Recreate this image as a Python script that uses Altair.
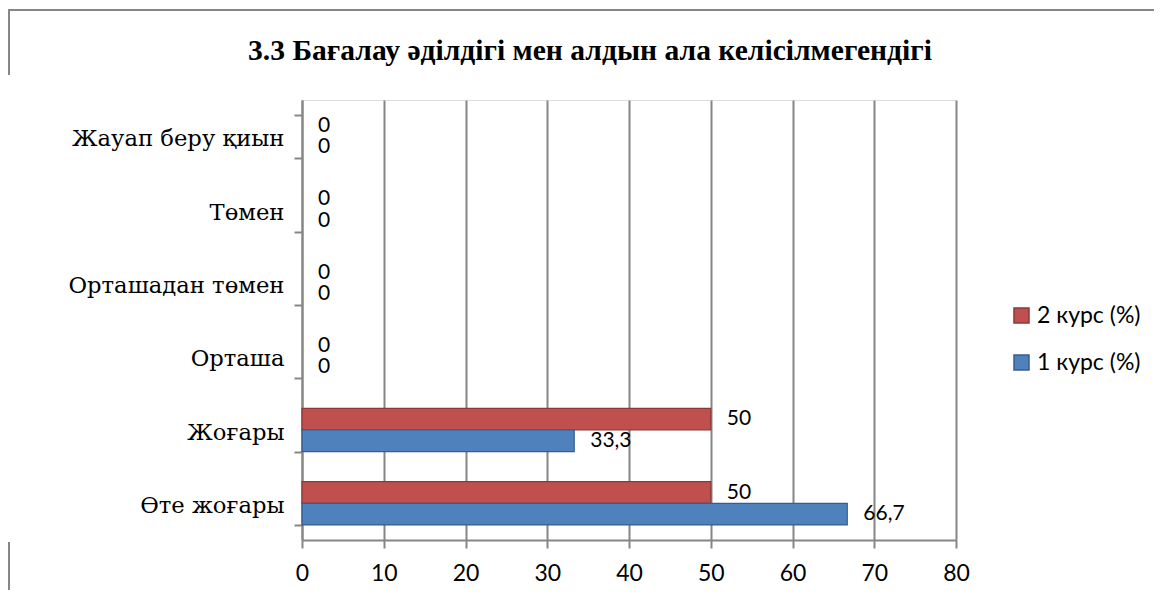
import altair as alt
import pandas as pd

categories = ["Жауап беру қиын", "Төмен", "Орташадан төмен", "Орташа", "Жоғары", "Өте жоғары"]
series = ["2 курс (%)", "1 курс (%)"]
values_2 = [0, 0, 0, 0, 50, 50]
values_1 = [0, 0, 0, 0, 33.3, 66.7]
x_ticks = [0, 10, 20, 30, 40, 50, 60, 70, 80]
colors = ["#C0504D", "#4F81BD"]
strokes = ["#8C3836", "#385D8A"]
title_text = "3.3 Бағалау әділдігі мен алдын ала келісілмегендігі"


def fmt(v):
    s = ("%g" % v)
    return s.replace(".", ",")


rows = []
for s, vals in zip(series, [values_2, values_1]):
    for c, v in zip(categories, vals):
        rows.append({"cat": c, "series": s, "value": v, "label": fmt(v)})
df = pd.DataFrame(rows)

W, H = 654, 440
SANS = "Lato"

y_enc = alt.Y("cat:N", sort=categories,
              scale=alt.Scale(paddingInner=0.41, paddingOuter=0.205),
              axis=alt.Axis(title=None, labelFont="DejaVu Serif", labelFontSize=22.7,
                            labelColor="#000000", labelPadding=10, labelLimit=400,
                            labelOffset=2,
                            tickSize=8, tickBand="extent", tickColor="#868686", tickWidth=2,
                            domainColor="#868686", domainWidth=2, grid=False))
yoff = alt.YOffset("series:N", sort=series)
x_enc = alt.X("value:Q", scale=alt.Scale(domain=[0, 80], nice=False),
              axis=alt.Axis(title=None, values=x_ticks, labelFont=SANS, labelFontSize=23,
                            labelColor="#000000", labelPadding=14, labelFlush=False,
                            tickSize=8, tickColor="#868686", tickWidth=2,
                            domainColor="#868686", domainWidth=2, grid=True,
                            gridColor="#868686", gridWidth=2))

bars = alt.Chart(df).mark_bar(strokeWidth=1.2).encode(
    x=x_enc,
    y=y_enc,
    yOffset=yoff,
    color=alt.Color("series:N", sort=series,
                    scale=alt.Scale(domain=series, range=colors),
                    legend=alt.Legend(title=None, orient="none", legendX=708, legendY=204,
                                      symbolType="square", symbolSize=225,
                                      symbolStrokeWidth=1.5, labelFont=SANS,
                                      labelFontSize=23, labelColor="#000000",
                                      labelOffset=4, rowPadding=23, padding=0)),
    stroke=alt.Stroke("series:N", sort=series,
                      scale=alt.Scale(domain=series, range=strokes), legend=None),
    strokeOpacity=alt.condition(alt.datum.value > 0, alt.value(1), alt.value(0)),
)

labels = alt.Chart(df).mark_text(align="left", baseline="middle", dx=16,
                                 font=SANS, fontSize=21, color="#000000").encode(
    x="value:Q",
    y=alt.Y("cat:N", sort=categories),
    yOffset=alt.YOffset("series:N", sort=series),
    text="label:N",
)

frame_df = pd.DataFrame({"k": [0]})
title = alt.Chart(frame_df).mark_text(
    text=title_text, font="Liberation Serif", fontSize=29.6, fontWeight="bold",
    color="#000000", align="center", baseline="alphabetic").encode(
    x=alt.value(288), y=alt.value(-40))
top_line = alt.Chart(frame_df).mark_rule(color="#868686", strokeWidth=2).encode(
    x=alt.value(-294), x2=alt.value(900), y=alt.value(-90))
left_top = alt.Chart(frame_df).mark_rule(color="#868686", strokeWidth=2).encode(
    x=alt.value(-293), y=alt.value(-90), y2=alt.value(-25))
left_bottom = alt.Chart(frame_df).mark_rule(color="#868686", strokeWidth=2).encode(
    x=alt.value(-293), y=alt.value(442), y2=alt.value(500))

chart = alt.layer(bars, labels, title, top_line, left_top, left_bottom).properties(
    width=W, height=H,
    autosize=alt.AutoSizeParams(type="none"),
    padding={"left": 294, "top": 92, "right": 198, "bottom": 50},
).configure_view(fill="#E6E6E6", stroke=None).configure(background="#FFFFFF")

chart.save("out.html", embed_options={"renderer": "svg", "actions": False})
